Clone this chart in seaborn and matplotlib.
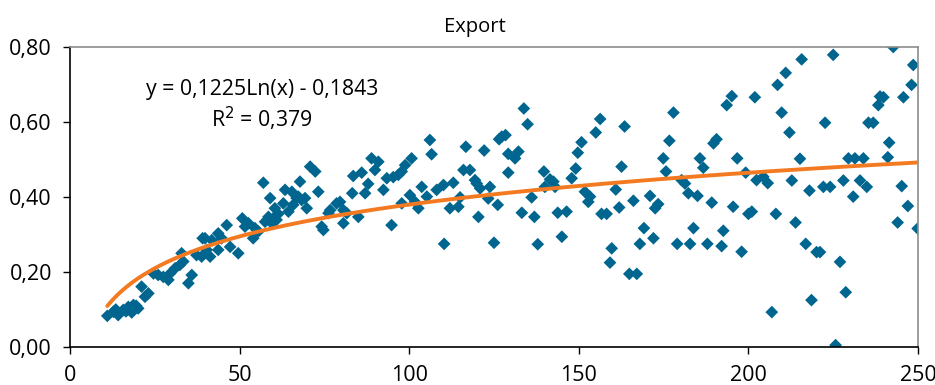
import numpy as np
import pandas as pd
import matplotlib
matplotlib.use("Agg")
import matplotlib.pyplot as plt
import seaborn as sns
from matplotlib.ticker import FuncFormatter

# ---- data ----
x_vals = [
    11.0, 12.8, 13.5, 14.2, 15.7, 16.5, 17.2, 18.2, 18.7, 19.5, 20.1, 21.1, 22.1, 23.1,
    24.6, 26.0, 27.5, 29.0, 29.5, 31.0, 32.4, 32.9, 33.4, 34.9, 35.9, 37.3, 38.8, 39.1,
    39.8, 40.3, 41.3, 41.8, 43.7, 43.7, 44.7, 46.2, 47.2, 49.6, 50.8, 51.6, 52.6, 54.0,
    54.5, 55.5, 57.0, 57.5, 58.5, 59.0, 59.5, 59.9, 60.4, 60.9, 61.4, 62.9, 63.4, 64.4,
    65.4, 65.8, 66.8, 67.3, 67.8, 68.3, 69.3, 69.8, 70.8, 72.3, 73.2, 74.2, 74.7, 76.2,
    76.7, 78.6, 79.6, 80.6, 80.6, 81.6, 83.2, 83.5, 85.0, 86.0, 87.0, 87.9, 88.9, 89.9,
    90.9, 92.4, 93.4, 94.8, 95.3, 96.8, 97.8, 97.8, 98.8, 100.2, 100.7, 101.7, 102.7,
    103.7, 105.2, 106.1, 106.6, 108.1, 110.1, 110.3, 112.0, 113.0, 114.5, 115.0, 116.0,
    116.7, 117.9, 119.4, 119.9, 120.4, 120.9, 122.1, 123.3, 123.8, 125.0, 126.1, 126.5,
    127.3, 128.4, 129.2, 129.2, 131.2, 132.2, 133.2, 133.8, 134.9, 136.1, 136.9, 137.9,
    139.7, 140.0, 141.5, 142.5, 143.0, 143.8, 145.0, 146.4, 147.9, 149.1, 149.7, 150.8,
    151.8, 152.8, 153.3, 155.0, 156.3, 156.7, 158.2, 159.2, 159.7, 160.9, 161.9, 162.6,
    163.5, 164.9, 166.1, 167.1, 168.0, 169.2, 171.0, 172.0, 172.5, 173.4, 174.9, 175.7,
    176.7, 177.9, 179.0, 180.3, 181.3, 182.3, 182.8, 183.8, 185.0, 185.7, 186.7, 187.9,
    189.2, 189.7, 190.6, 192.1, 192.6, 193.6, 195.1, 195.5, 196.7, 198.0, 199.2, 200.0,
    201.0, 201.9, 202.4, 204.4, 205.7, 206.9, 208.1, 208.6, 209.8, 211.0, 212.1, 212.8,
    213.9, 215.2, 215.7, 216.9, 218.0, 218.6, 220.1, 221.1, 222.1, 222.6, 224.1, 225.0,
    225.7, 227.0, 228.0, 228.7, 229.5, 230.9, 231.4, 232.9, 233.9, 234.9, 235.4, 236.8,
    238.3, 238.8, 239.8, 241.1, 241.5, 242.7, 244.0, 245.2, 245.7, 247.0, 248.1, 248.6,
    249.9,
]
y_vals = [
    0.083, 0.094, 0.100, 0.085, 0.099, 0.095, 0.107, 0.092, 0.112, 0.110, 0.103, 0.161, 0.134, 0.143,
    0.196, 0.192, 0.187, 0.179, 0.196, 0.210, 0.219, 0.250, 0.228, 0.170, 0.192, 0.245, 0.241, 0.290,
    0.290, 0.259, 0.241, 0.285, 0.303, 0.259, 0.290, 0.325, 0.267, 0.250, 0.343, 0.321, 0.330, 0.290,
    0.317, 0.308, 0.438, 0.334, 0.347, 0.397, 0.330, 0.343, 0.370, 0.339, 0.355, 0.383, 0.419, 0.361,
    0.414, 0.379, 0.397, 0.401, 0.441, 0.392, 0.397, 0.370, 0.481, 0.468, 0.414, 0.321, 0.312, 0.357,
    0.365, 0.383, 0.387, 0.365, 0.330, 0.357, 0.410, 0.456, 0.347, 0.465, 0.410, 0.435, 0.503, 0.472,
    0.494, 0.419, 0.450, 0.325, 0.453, 0.459, 0.468, 0.383, 0.485, 0.405, 0.503, 0.387, 0.370,
    0.427, 0.401, 0.552, 0.514, 0.419, 0.432, 0.275, 0.370, 0.438, 0.374, 0.399, 0.472,
    0.534, 0.472, 0.445, 0.436, 0.347, 0.423, 0.524, 0.396, 0.427, 0.278, 0.379, 0.554,
    0.561, 0.565, 0.515, 0.465, 0.503, 0.521, 0.358, 0.636, 0.594, 0.399, 0.347, 0.274,
    0.468, 0.427, 0.447, 0.441, 0.427, 0.358, 0.294, 0.361, 0.450, 0.476, 0.518, 0.546,
    0.414, 0.387, 0.401, 0.572, 0.608, 0.355, 0.355, 0.225, 0.263, 0.420, 0.372, 0.481,
    0.588, 0.195, 0.390, 0.195, 0.275, 0.317, 0.403, 0.290, 0.370, 0.381, 0.503, 0.468,
    0.550, 0.625, 0.275, 0.445, 0.436, 0.410, 0.275, 0.317, 0.403, 0.503, 0.478, 0.275,
    0.385, 0.543, 0.554, 0.269, 0.310, 0.645, 0.669, 0.374, 0.503, 0.254, 0.465, 0.355,
    0.361, 0.666, 0.445, 0.454, 0.437, 0.093, 0.355, 0.699, 0.625, 0.731, 0.572, 0.444,
    0.332, 0.502, 0.767, 0.275, 0.417, 0.125, 0.253, 0.253, 0.427, 0.598, 0.427, 0.779,
    0.005, 0.227, 0.444, 0.146, 0.503, 0.401, 0.503, 0.444, 0.503, 0.427, 0.598, 0.598,
    0.645, 0.668, 0.666, 0.506, 0.545, 0.800, 0.332, 0.429, 0.666, 0.376, 0.699, 0.752,
    0.316,
]
trend_a = 0.1225
trend_b = -0.1843
title = "Export"
eq_lines = ["y = 0,1225Ln(x) - 0,1843", "R$^2$ = 0,379"]
x_ticks = [0, 50, 100, 150, 200, 250]
y_ticks = [0.0, 0.2, 0.4, 0.6, 0.8]

df = pd.DataFrame({"x": x_vals, "y": y_vals})
tx = np.linspace(min(x_vals), 250, 200)
trend = pd.DataFrame({"x": tx, "y": trend_a * np.log(tx) + trend_b})

sns.set_theme(style="white")
plt.rcParams["font.family"] = ["Open Sans", "DejaVu Sans"]

W, H = 935, 385
fig = plt.figure(figsize=(W / 100, H / 100), dpi=100)
ax = fig.add_axes([70 / W, 38 / H, 848 / W, 300 / H])

sns.scatterplot(data=df, x="x", y="y", ax=ax, marker="D", s=42,
                color="#00668F", edgecolor="none", linewidth=0, zorder=2)
sns.lineplot(data=trend, x="x", y="y", ax=ax, color="#F47A22",
             linewidth=2.8, zorder=3)

ax.set_xlim(0, 250)
ax.set_ylim(0, 0.8)
ax.set_xticks(x_ticks)
ax.set_yticks(y_ticks)
ax.yaxis.set_major_formatter(FuncFormatter(lambda v, p: f"{v:.2f}".replace(".", ",")))
ax.xaxis.set_major_formatter(FuncFormatter(lambda v, p: f"{int(v)}"))
ax.set_xlabel("")
ax.set_ylabel("")
ax.tick_params(axis="both", which="major", direction="out", length=5, width=1,
               color="black", labelsize=15.5, labelcolor="black", bottom=True, left=True)
ax.tick_params(axis="y", pad=8)
ax.tick_params(axis="x", pad=8)

for side in ["left", "bottom"]:
    ax.spines[side].set_color("black")
    ax.spines[side].set_linewidth(1.2)
for side in ["top", "right"]:
    ax.spines[side].set_visible(True)
    ax.spines[side].set_color("#8C8C8C")
    ax.spines[side].set_linewidth(1.2)

fig.text(475 / W, 1 - 27 / H, title, ha="center", va="center", fontsize=14.5, color="black")
fig.text(262 / W, 1 - 90 / H, eq_lines[0], ha="center", va="center", fontsize=15.3, color="black")
fig.text(262 / W, 1 - 119 / H, eq_lines[1], ha="center", va="center", fontsize=15.3, color="black")

fig.savefig("out.png", dpi=100)
